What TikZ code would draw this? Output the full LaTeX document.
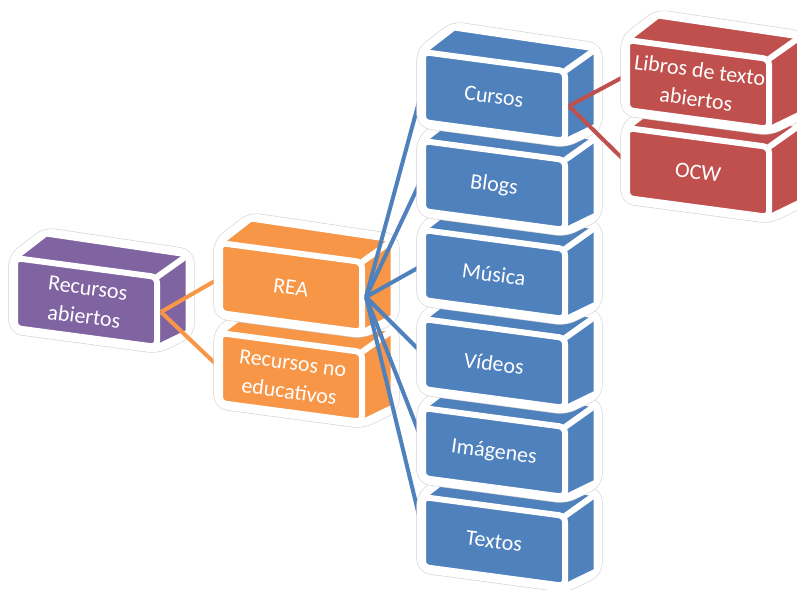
\documentclass[tikz,border=0pt]{standalone}
\usepackage{fontspec}
\setmainfont{Carlito}
\usepackage{xcolor}
\definecolor{boxpurple}{HTML}{8064A2}
\definecolor{boxorange}{HTML}{F79646}
\definecolor{boxblue}{HTML}{4F81BD}
\definecolor{boxred}{HTML}{C0504D}
\newcommand{\cubew}{142}
\newcommand{\cubeh}{70}
\newcommand{\cubeslant}{19}
% corner coordinates of one box (front top left at #2,#3)
\newcommand{\placebox}[3]{%
\begin{scope}[shift={(#2,#3)}]
\coordinate (#1-ftl) at (0,0);
\coordinate (#1-ftr) at (\cubew,\cubeslant);
\coordinate (#1-fbr) at (\cubew,\cubeslant+\cubeh);
\coordinate (#1-fbl) at (0,\cubeh);
\coordinate (#1-btl) at (31,-24);
\coordinate (#1-btr) at (\cubew+31,\cubeslant-22);
\coordinate (#1-bbr) at (\cubew+31,\cubeslant+\cubeh-15);
\coordinate (#1-mid) at (\cubew/2,\cubeslant/2+\cubeh/2);
\coordinate (#1-in) at (0,\cubeh/2);
\coordinate (#1-out) at (\cubew+4,\cubeslant+\cubeh/2);
\end{scope}}
% the box itself
\newcommand{\drawbox}[3]{%
\draw[halo] (#1-fbl)--(#1-ftl)--(#1-btl)--(#1-btr)--(#1-bbr)--(#1-fbr)--cycle;
\filldraw[facerim,fill=#2] (#1-fbl)--(#1-ftl)--(#1-btl)--(#1-btr)--(#1-bbr)--(#1-fbr)--cycle;
\draw[facerim,line width=3pt] (#1-ftr)--(#1-btr);
\filldraw[facerim,fill=#2,line width=3pt,rounded corners=3pt] (#1-ftl)--(#1-ftr)--(#1-fbr)--(#1-fbl)--cycle;
\node[boxtext] (#1) at (#1-mid) {#3};}

\begin{document}
\begin{tikzpicture}[x=0.5pt,y=-0.5pt,
  halo/.style={draw=gray!35,line width=0.3pt,double=white,double distance=6pt,fill=white,line join=round,rounded corners=4pt},
  facerim/.style={draw=white,line width=2.5pt,line join=round},
  boxtext/.style={text=white,align=center,rotate=-7.5,inner sep=0pt,font=\fontsize{11}{14.5}\selectfont},
  conn/.style={line width=2pt}]
\useasboundingbox (0,0) rectangle (797,589);
\clip (0,0) rectangle (797,589);
\placebox{ra}{15}{258}
\placebox{rea}{220}{243}
\placebox{rne}{220}{333}
\foreach \name/\y in {cursos/52,blogs/141,musica/230,videos/319,imagenes/408,textos/497}
  {\placebox{\name}{423}{\y}}
\placebox{libros}{627}{40}
\placebox{ocw}{627}{128}
\drawbox{ra}{boxpurple}{Recursos\\abiertos}
\draw[conn,boxorange] (ra-out)--(rea-in);
\draw[conn,boxorange] (ra-out)--(rne-in);
% lower boxes first, so the upper ones hide their tops
\drawbox{rne}{boxorange}{Recursos no\\educativos}
\drawbox{rea}{boxorange}{REA}
\foreach \name in {cursos,blogs,musica,videos,imagenes,textos}
  \draw[conn,boxblue] (rea-out)--(\name-in);
\drawbox{textos}{boxblue}{Textos}
\drawbox{imagenes}{boxblue}{Imágenes}
\drawbox{videos}{boxblue}{Vídeos}
\drawbox{musica}{boxblue}{Música}
\drawbox{blogs}{boxblue}{Blogs}
\drawbox{cursos}{boxblue}{Cursos}
\draw[conn,boxred] (cursos-out)--(libros-in);
\draw[conn,boxred] (cursos-out)--(ocw-in);
\drawbox{ocw}{boxred}{OCW}
\drawbox{libros}{boxred}{Libros de texto\\abiertos}
\end{tikzpicture}
\end{document}
